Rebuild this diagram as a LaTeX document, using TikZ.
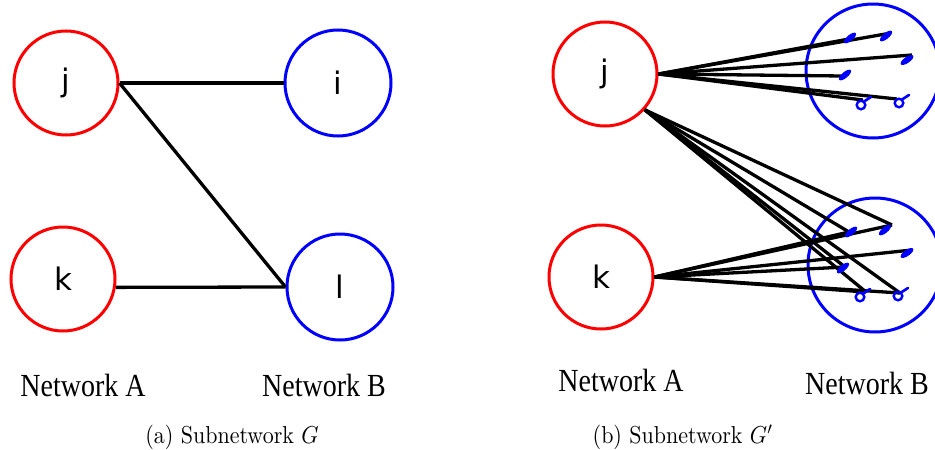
\documentclass[tikz,border=0pt]{standalone}
\usepackage{fontspec}
\newfontfamily\nodefamily{DejaVu Sans}
\newfontfamily\netfamily{Liberation Serif}
\newcommand\nettext[1]{\scalebox{1}[1.15]{\netfamily\fontsize{28}{30}\selectfont #1}}
\newcommand\captext[1]{\scalebox{2.2}[2.45]{\fontsize{10}{12}\selectfont #1}}

\begin{document}
\begin{tikzpicture}[x=1pt,y=-1pt,
  nodeA/.style={circle, draw=red, line width=3pt, minimum size=104pt, inner sep=0pt,
    font=\nodefamily\fontsize{31}{33}\selectfont},
  nodeB/.style={circle, draw=blue, line width=3pt, minimum size=106pt, inner sep=0pt,
    font=\nodefamily\fontsize{31}{33}\selectfont},
  groupB/.style={circle, draw=blue, line width=3pt, minimum size=134pt, inner sep=0pt},
  link/.style={line width=3.3pt, black},
  netlabel/.style={inner sep=0pt},
  caption/.style={inner sep=0pt},
  blobmark/.pic={\fill[blue] (0,0) ellipse [x radius=7.5pt, y radius=3pt];},
  loopmark/.pic={\draw[blue, line width=2.4pt] (0,0) circle [radius=4.3pt];
                 \draw[blue, line width=2.6pt, line cap=round] (3pt,3.5pt) -- (10pt,8pt);}
]
\useasboundingbox (0,0) rectangle (935,450);

% ---------- (a) subnetwork G ----------
\node[nodeA] (j) at (66,83)  {j};
\node[nodeB] (i) at (338,83) {i};
\node[nodeA] (k) at (63,279) {k};
\node[nodeB] (l) at (340,287) {l};

\draw[link] (j.east) -- (i.west);
\draw[link] (j.east) -- (l.west);
\draw[link] (k.-9) -- (l.west);

\node[netlabel] (na1) at (83,385)  {\nettext{Network A}};
\node[netlabel] (nb1) at (324,385) {\nettext{Network B}};
\node[caption]  (ca)  at (232,437) {\captext{(a) Subnetwork $G$}};

% ---------- (b) subnetwork G' ----------
\node[nodeA] (j2) at (605,74)  {j};
\node[nodeA] (k2) at (601,277) {k};
\node[groupB] (gi) at (873,71)  {};
\node[groupB] (gl) at (875,265) {};

% end points of the replicated links inside the two groups
\coordinate (tA) at (849,39);
\coordinate (tB) at (891,33);
\coordinate (tC) at (912,55);
\coordinate (tD) at (843,76);
\coordinate (tE) at (863,100);
\coordinate (tF) at (897,99);
\coordinate (bA) at (849,232);
\coordinate (bB) at (892,225);
\coordinate (bC) at (912,250);
\coordinate (bD) at (845,267);
\coordinate (bE) at (866,292);
\coordinate (bF) at (900,293);

\foreach \t in {tA,tB,tC,tD,tE,tF}
  \draw[link] (j2.east) -- (\t);
\foreach \t in {bA,bB,bD,bE,bF}
  \draw[link] (j2.-42) -- (\t);
\foreach \t in {bA,bB,bC,bD,bE,bF}
  \draw[link] (k2.east) -- (\t);

% small replica markers
\pic[rotate=40] at (850,38)  {blobmark};
\pic[rotate=40] at (886,36)  {blobmark};
\pic[rotate=35] at (907,60)  {blobmark};
\pic[rotate=40] at (845,75)  {blobmark};
\pic at (861,105) {loopmark};
\pic at (899,103) {loopmark};
\pic[rotate=40] at (851,232) {blobmark};
\pic[rotate=40] at (885,230) {blobmark};
\pic[rotate=35] at (907,253) {blobmark};
\pic[rotate=40] at (843,268) {blobmark};
\pic at (860,297) {loopmark};
\pic at (898,296) {loopmark};

\node[netlabel] (na2) at (621,380) {\nettext{Network A}};
\node[netlabel] (nb2) at (867,383) {\nettext{Network B}};
\node[caption]  (cb)  at (683,437) {\captext{(b) Subnetwork $G'$}};
\end{tikzpicture}
\end{document}
